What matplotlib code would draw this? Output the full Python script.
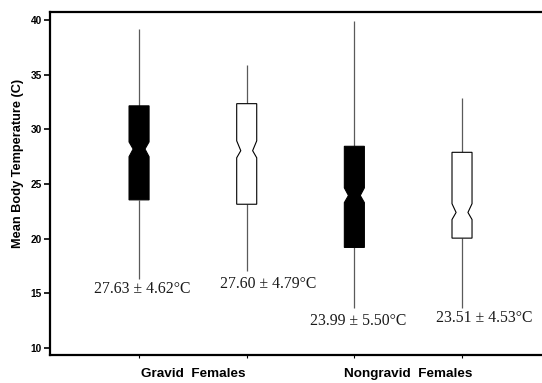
import matplotlib
matplotlib.use('Agg')
import matplotlib.pyplot as plt
import matplotlib.transforms as mtransforms

# Box statistics (deg C)
positions = [1, 2, 3, 4]
whisker_hi = [39.2, 35.9, 39.9, 32.9]
q3 = [32.15, 32.35, 28.45, 27.9]
notch_hi = [28.85, 28.95, 24.65, 23.2]
median = [28.2, 28.05, 23.95, 22.4]
notch_lo = [27.5, 27.4, 23.3, 21.75]
q1 = [23.55, 23.15, 19.2, 20.05]
whisker_lo = [16.3, 17.05, 13.65, 13.7]
filled = [True, False, True, False]

labels = ['27.63 \u00b1 4.62\u00b0C', '27.60 \u00b1 4.79\u00b0C',
          '23.99 \u00b1 5.50\u00b0C', '23.51 \u00b1 4.53\u00b0C']
label_x = [1.03, 2.20, 3.04, 4.21]
label_y = [15.4, 15.9, 12.5, 12.75]

groups = ['Gravid  Females', 'Nongravid  Females']
group_x = [1.5, 3.5]

fig = plt.figure(figsize=(5.42, 3.83), dpi=100)
ax = fig.add_axes([0.0923, 0.0731, 0.9077, 0.8943])

half = 0.093
notch_half = 0.055
for i, x in enumerate(positions):
    ax.vlines(x, q3[i], whisker_hi[i], color='#5a5a5a', lw=0.9, zorder=1)
    ax.vlines(x, whisker_lo[i], q1[i], color='#5a5a5a', lw=0.9, zorder=1)
    xs = [x - half, x + half, x + half, x + notch_half, x + half, x + half,
          x - half, x - half, x - notch_half, x - half, x - half]
    ys = [q1[i], q1[i], notch_lo[i], median[i], notch_hi[i], q3[i],
          q3[i], notch_hi[i], median[i], notch_lo[i], q1[i]]
    if filled[i]:
        ax.fill(xs, ys, facecolor='black', edgecolor='black', lw=0.8, zorder=2)
    else:
        ax.fill(xs, ys, facecolor='white', edgecolor='black', lw=0.8, zorder=2)
    ax.text(label_x[i], label_y[i], labels[i], ha='center', va='center',
            fontsize=11.3, family='Liberation Serif', color='#1a1a1a')

ax.set_xlim(0.173, 4.743)
ax.set_ylim(9.36, 40.69)
ax.set_xticks(positions)
ax.set_xticklabels([])
ax.set_yticks(range(10, 41, 5))
for t in ax.get_yticklabels():
    t.set_fontweight('heavy')
    t.set_family('Liberation Sans')
    t.set_fontsize(7.3)
ax.tick_params(axis='y', length=4.5, width=1.2, pad=1.5)
ax.tick_params(axis='x', length=2.5, width=0.8, direction='out')

trans = mtransforms.blended_transform_factory(ax.transData, ax.transAxes)
for gx, g in zip(group_x, groups):
    ax.text(gx, -0.055, g, transform=trans, ha='center', va='center',
            fontsize=9.7, fontweight='bold', family='Liberation Sans')

ax.set_ylabel('Mean Body Temperature (C)', fontsize=9.2, fontweight='bold',
              family='Liberation Sans')
ax.yaxis.set_label_coords(-0.053, 0.56)

for s in ['left', 'bottom', 'top']:
    ax.spines[s].set_linewidth(1.6)
ax.spines['right'].set_visible(False)

fig.savefig('out.png', dpi=100)
